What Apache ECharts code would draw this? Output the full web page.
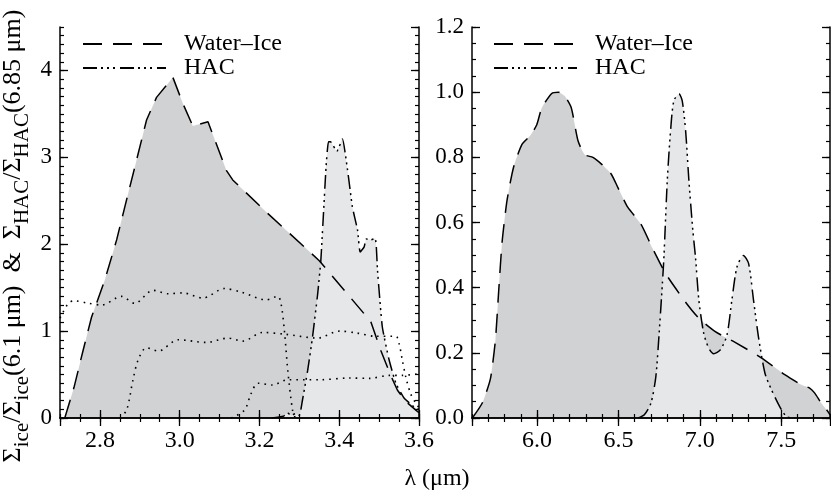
<!DOCTYPE html>
<html><head><meta charset="utf-8">
<script src="https://cdn.jsdelivr.net/npm/echarts@6/dist/echarts.min.js"></script>
<style>html,body{margin:0;padding:0;background:#fff}#c{width:831px;height:494px}</style>
</head><body><div id="c"></div>
<script>
// ---------- data ----------
// Left panel (3 µm region)
const iceL_x = [2.712,2.735,2.758,2.779,2.8125,2.842,2.8625,2.892,2.917,2.942,2.983,3.008,3.033,3.071,3.117,3.133,3.217,3.317,3.35,3.479,3.504,3.529,3.546,3.567,3.592,3.6];
const iceL_y = [0,0.35,0.78,1.16,1.59,2.05,2.43,2.97,3.43,3.69,3.92,3.62,3.36,3.41,2.85,2.74,2.37,1.95,1.81,1.11,0.78,0.49,0.32,0.19,0.09,0.06];
const hacL_x = [3.23,3.26,3.27,3.28,3.29,3.30,3.308,3.321,3.333,3.346,3.354,3.367,3.373,3.378,3.394,3.408,3.421,3.433,3.446,3.4525,3.4625,3.468,3.48,3.49,3.493,3.496,3.508,3.525,3.542,3.5625,3.5875,3.6];
const hacL_y = [0,0.02,0.06,0.03,0.05,0.03,0.21,0.55,0.93,1.43,1.82,2.89,3.18,3.18,3.07,3.21,2.85,2.43,2.16,1.91,1.97,2.06,2.05,2.07,1.97,1.7,1.05,0.67,0.4,0.23,0.13,0.1];
const dot1_x = [2.7,2.708,2.721,2.735,2.771,2.804,2.854,2.8875,2.933,2.971,3.008,3.058,3.1125,3.154,3.217,3.246,3.254,3.2625,3.271,3.283,3.29];
const dot1_y = [1.15,1.22,1.32,1.35,1.32,1.30,1.40,1.32,1.47,1.43,1.44,1.38,1.49,1.45,1.36,1.40,1.32,1.01,0.55,0.09,0];
const dot2_x = [2.85,2.867,2.883,2.896,2.917,2.946,2.996,3.067,3.121,3.158,3.208,3.2625,3.346,3.4,3.442,3.492,3.542,3.55,3.558,3.567,3.579,3.592,3.6];
const dot2_y = [0,0.09,0.44,0.67,0.81,0.77,0.90,0.87,0.92,0.885,0.985,0.965,0.92,1.0,0.98,0.94,0.94,0.86,0.67,0.47,0.28,0.17,0.12];
const dot3_x = [3.129,3.1625,3.179,3.196,3.233,3.271,3.35,3.425,3.475,3.525,3.558,3.6];
const dot3_y = [0,0.09,0.28,0.40,0.38,0.44,0.44,0.46,0.456,0.49,0.49,0.51];
// Right panel (6 µm region)
const iceR_x = [5.602,5.663,5.713,5.744,5.764,5.785,5.815,5.855,5.907,5.957,5.998,6.029,6.09,6.13,6.17,6.21,6.252,6.293,6.343,6.394,6.455,6.496,6.557,6.638,6.71,6.79,6.91,6.994,7.095,7.217,7.38,7.522,7.624,7.675,7.705,7.746,7.787,7.8];
const iceR_y = [0,0.046,0.12,0.24,0.39,0.54,0.667,0.769,0.84,0.866,0.90,0.952,0.996,1.0,0.988,0.952,0.85,0.808,0.80,0.78,0.749,0.708,0.647,0.595,0.52,0.443,0.357,0.306,0.265,0.232,0.184,0.133,0.102,0.092,0.077,0.046,0.02,0.01];
const hacR_x = [6.62,6.659,6.70,6.73,6.75,6.77,6.78,6.80,6.82,6.84,6.872,6.892,6.913,6.933,6.957,6.974,6.994,7.024,7.055,7.085,7.126,7.167,7.197,7.228,7.268,7.30,7.33,7.36,7.40,7.44,7.49,7.53,7.56];
const hacR_y = [0,0.01,0.046,0.128,0.26,0.413,0.50,0.728,0.88,0.973,0.995,0.973,0.88,0.728,0.576,0.49,0.362,0.26,0.214,0.197,0.209,0.255,0.362,0.463,0.499,0.474,0.362,0.25,0.138,0.087,0.036,0.005,0];
// Axis settings
const xRangeL = [2.7, 3.6], yRangeL = [0, 4.5];
const xRangeR = [5.6, 7.8], yRangeR = [0, 1.2];
const legendNames = ['Water\u2013Ice', 'HAC'];

// ---------- styles ----------
const FONT = '"Liberation Serif","Times New Roman",serif';
const DARK = '#d1d2d4', LIGHT = '#e6e7e9';
const DASH_ICE = [19, 11];
const DASH_HAC = [14, 4, 2, 4, 2, 4, 2, 5];
const DOT = [1.6, 5];

const zip = (a, b) => a.map((v, i) => [v, b[i]]);

const grids = [
  {left: 60, top: 27, width: 359, height: 391},
  {left: 472, top: 27, width: 358, height: 391}
];

function xAxes(g, range, minorInt, fmt) {
  const base = {type: 'value', gridIndex: g, min: range[0], max: range[1], z: 10, splitLine: {show: false}};
  return [
    Object.assign({}, base, {position: 'bottom', splitNumber: 5,
      axisLine: {show: true, lineStyle: {color: '#000', width: 1.5}},
      axisTick: {show: true, inside: true, length: 8, lineStyle: {color: '#000', width: 1.3}},
      axisLabel: {show: true, showMinLabel: false, showMaxLabel: g === 0, margin: 11, formatter: fmt, color: '#000', fontFamily: FONT, fontSize: 24}}),
    Object.assign({}, base, {position: 'bottom', interval: minorInt,
      axisLine: {show: false}, axisTick: {show: true, inside: true, length: 4, lineStyle: {color: '#000', width: 1.2}}, axisLabel: {show: false}}),
    Object.assign({}, base, {position: 'top', splitNumber: 5,
      axisLine: {show: true, lineStyle: {color: '#000', width: 1.5}},
      axisTick: {show: true, inside: true, length: 8, lineStyle: {color: '#000', width: 1.3}}, axisLabel: {show: false}}),
    Object.assign({}, base, {position: 'top', interval: minorInt,
      axisLine: {show: false}, axisTick: {show: true, inside: true, length: 4, lineStyle: {color: '#000', width: 1.2}}, axisLabel: {show: false}})
  ];
}
function yAxes(g, range, majorInt, minorInt, fmt) {
  const base = {type: 'value', gridIndex: g, min: range[0], max: range[1], z: 10, splitLine: {show: false}};
  return [
    Object.assign({}, base, {position: 'left', interval: majorInt,
      axisLine: {show: true, lineStyle: {color: '#000', width: 1.5}},
      axisTick: {show: true, inside: true, length: 8, lineStyle: {color: '#000', width: 1.3}},
      axisLabel: {show: true, showMaxLabel: g === 1, margin: 8, formatter: fmt, color: '#000', fontFamily: FONT, fontSize: 23}}),
    Object.assign({}, base, {position: 'left', interval: minorInt,
      axisLine: {show: false}, axisTick: {show: true, inside: true, length: 4, lineStyle: {color: '#000', width: 1.2}}, axisLabel: {show: false}}),
    Object.assign({}, base, {position: 'right', interval: majorInt,
      axisLine: {show: true, lineStyle: {color: '#000', width: 1.5}},
      axisTick: {show: true, inside: true, length: 8, lineStyle: {color: '#000', width: 1.3}}, axisLabel: {show: false}}),
    Object.assign({}, base, {position: 'right', interval: minorInt,
      axisLine: {show: false}, axisTick: {show: true, inside: true, length: 4, lineStyle: {color: '#000', width: 1.2}}, axisLabel: {show: false}})
  ];
}

const xAxis = [].concat(
  xAxes(0, xRangeL, 0.05, v => v.toFixed(1)),
  xAxes(1, xRangeR, 0.1, v => v.toFixed(1))
);
const yAxis = [].concat(
  yAxes(0, yRangeL, 1, 0.1, v => String(Math.round(v))),
  yAxes(1, yRangeR, 0.2, 0.05, v => v.toFixed(1))
);

function fill(xi, yi, data, color, z, smooth) {
  return {type: 'line', xAxisIndex: xi, yAxisIndex: yi, data, showSymbol: false, symbol: 'none',
    smooth: smooth, silent: true, z: z,
    lineStyle: {width: 0, opacity: 0}, areaStyle: {color: color, opacity: 1}};
}
function line(name, xi, yi, data, dash, smooth, w) {
  return {name: name, type: 'line', xAxisIndex: xi, yAxisIndex: yi, data, showSymbol: false, symbol: 'none',
    smooth: smooth, silent: true, z: 5,
    lineStyle: {color: '#000', width: w || 1.5, type: dash}};
}

const series = [
  fill(0, 0, zip(iceL_x, iceL_y), DARK, 1, false),
  fill(0, 0, zip(hacL_x, hacL_y), LIGHT, 2, 0.15),
  line(legendNames[0], 0, 0, zip(iceL_x, iceL_y), DASH_ICE, false),
  line(legendNames[1], 0, 0, zip(hacL_x, hacL_y), DASH_HAC, 0.15),
  line('dot1', 0, 0, zip(dot1_x, dot1_y), DOT, 0.3, 1.6),
  line('dot2', 0, 0, zip(dot2_x, dot2_y), DOT, 0.3, 1.6),
  line('dot3', 0, 0, zip(dot3_x, dot3_y), DOT, 0.3, 1.6),
  fill(4, 4, zip(iceR_x, iceR_y), DARK, 1, 0.2),
  fill(4, 4, zip(hacR_x, hacR_y), LIGHT, 2, 0.25),
  line(legendNames[0], 4, 4, zip(iceR_x, iceR_y), DASH_ICE, 0.2),
  line(legendNames[1], 4, 4, zip(hacR_x, hacR_y), DASH_HAC, 0.25)
];

function legendAt(left) {
  return {left: left, top: 32, orient: 'vertical', padding: 0, itemGap: 0,
    itemWidth: 83, itemHeight: 14, selectedMode: false, data: legendNames,
    itemStyle: {color: 'rgba(0,0,0,0)', borderColor: 'rgba(0,0,0,0)', borderWidth: 0},
    textStyle: {color: '#000', fontFamily: FONT, fontSize: 24, lineHeight: 22, padding: [0, 0, 0, 13]}};
}

const yTitle = '{m|\u03A3}{s|ice}{m|/\u03A3}{s|ice}{m|(6.1 \u03BCm)  &  \u03A3}{s|HAC}{m|/\u03A3}{s|HAC}{m|(6.85 \u03BCm)}';

const option = {
  animation: false,
  backgroundColor: '#fff',
  grid: grids,
  xAxis: xAxis,
  yAxis: yAxis,
  legend: [legendAt(82), legendAt(493)],
  series: series,
  graphic: [
    {type: 'text', x: 13, y: 236, rotation: Math.PI / 2, silent: true,
     style: {text: yTitle, align: 'center', verticalAlign: 'middle',
       rich: {
         m: {fontFamily: FONT, fontSize: 26, lineHeight: 26, verticalAlign: 'top', fill: '#000'},
         s: {fontFamily: FONT, fontSize: 21, lineHeight: 21, verticalAlign: 'top', padding: [12, 0, 0, 0], fill: '#000'}
       }}},
    {type: 'text', x: 437, y: 479, silent: true,
     style: {text: '\u03BB (\u03BCm)', align: 'center', verticalAlign: 'middle', font: '24px ' + FONT, fill: '#000'}}
  ]
};

const chart = echarts.init(document.getElementById('c'), null, {renderer: 'canvas'});
chart.setOption(option);
</script>
</body></html>
